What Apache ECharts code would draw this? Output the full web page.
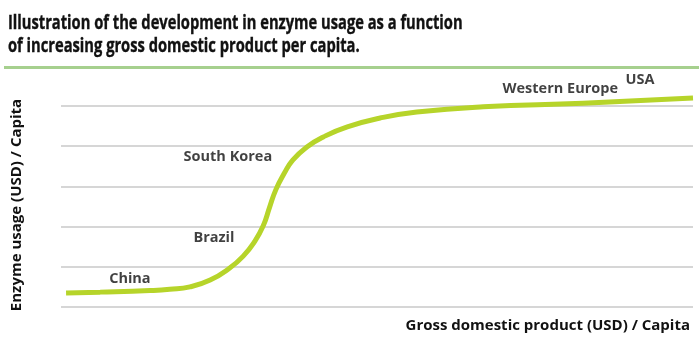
<!DOCTYPE html>
<html>
<head>
<meta charset="utf-8">
<script src="https://cdn.jsdelivr.net/npm/echarts@6/dist/echarts.min.js"></script>
<style>
  html, body { margin: 0; padding: 0; background: #fff; }
  #chart { width: 699px; height: 341px; }
</style>
</head>
<body>
<div id="chart"></div>
<script>
// curve (gdp scale 0-100, usage in gridline units)
var gdp   = [0.8, 6.2, 14.1, 17.2, 20.4, 23.6, 26.7, 28.8, 30.6, 32.0, 33.0, 34.0, 35.3, 36.7, 38.9, 41.5, 45.3, 50.5, 56.3, 66.8, 82.6, 100];
var usage = [0.35, 0.37, 0.41, 0.44, 0.50, 0.67, 0.97, 1.26, 1.62, 2.02, 2.48, 2.92, 3.32, 3.66, 3.98, 4.23, 4.48, 4.70, 4.85, 4.98, 5.07, 5.20];

// country labels and where they sit
var countries = ['China', 'Brazil', 'South Korea', 'Western Europe', 'USA'];
var countryX  = [10.9, 24.2, 26.4, 79.0, 91.6];
var countryY  = [0.70, 1.72, 3.73, 5.42, 5.65];

var titleLines = ['Illustration of the development in enzyme usage as a function', 'of increasing gross domestic product per capita.'];

var yTicks = [0, 1, 2, 3, 4, 5];

var chart = echarts.init(document.getElementById('chart'));

var font = '"Open Sans", sans-serif';
var ink = '#111';

chart.setOption({
  animation: false,
  grid: { left: 61, right: 6, top: 106, bottom: 34 },
  xAxis: {
    type: 'value',
    min: 0,
    max: 100,
    show: false
  },
  yAxis: {
    type: 'value',
    min: yTicks[0],
    max: yTicks[yTicks.length - 1],
    interval: 1,
    axisLine: { show: false },
    axisTick: { show: false },
    axisLabel: { show: false },
    splitLine: { lineStyle: { color: '#c8c8c8', width: 1.5 } }
  },
  graphic: [
    {
      type: 'text',
      x: 8,
      y: 23,
      scaleX: 0.735,
      style: {
        text: titleLines[0],
        font: 'bold 20px ' + font,
        fill: ink,
        stroke: ink,
        lineWidth: 0.4,
        textVerticalAlign: 'middle'
      }
    },
    {
      type: 'text',
      x: 8,
      y: 46,
      scaleX: 0.735,
      style: {
        text: titleLines[1],
        font: 'bold 20px ' + font,
        fill: ink,
        stroke: ink,
        lineWidth: 0.4,
        textVerticalAlign: 'middle'
      }
    },
    {
      type: 'rect',
      shape: { x: 4, y: 66, width: 695, height: 3 },
      style: { fill: '#a6d08e' }
    },
    {
      type: 'text',
      x: 17,
      y: 205,
      rotation: Math.PI / 2,
      style: {
        text: 'Enzyme usage (USD) / Capita',
        font: 'bold 15px ' + font,
        fill: ink,
        textAlign: 'center',
        textVerticalAlign: 'middle'
      }
    },
    {
      type: 'text',
      x: 690,
      y: 326,
      style: {
        text: 'Gross domestic product (USD) / Capita',
        font: 'bold 15px ' + font,
        fill: ink,
        textAlign: 'right',
        textVerticalAlign: 'middle'
      }
    }
  ],
  series: [
    {
      type: 'line',
      smooth: true,
      clip: false,
      symbol: 'none',
      data: gdp.map(function (x, i) { return [x, usage[i]]; }),
      lineStyle: { color: '#b6d42a', width: 5 }
    },
    {
      type: 'scatter',
      clip: false,
      symbolSize: 0,
      data: countries.map(function (c, i) { return { name: c, value: [countryX[i], countryY[i]] }; }),
      label: {
        show: true,
        position: 'inside',
        formatter: '{b}',
        fontFamily: font,
        fontWeight: 'bold',
        fontSize: 14.5,
        color: ink
      }
    }
  ]
});
</script>
</body>
</html>
